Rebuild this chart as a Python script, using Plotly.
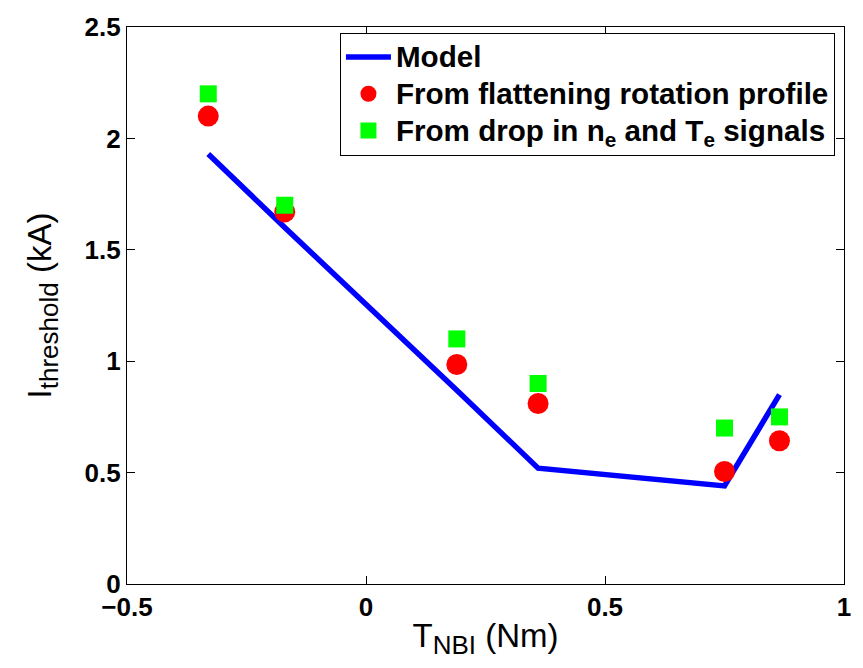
import plotly.graph_objects as go

# NBI torque (Nm) and threshold current (kA)
torque = [-0.33, -0.17, 0.19, 0.36, 0.75, 0.865]
model_threshold = [1.93, 1.60, 0.87, 0.52, 0.44, 0.85]
rotation_threshold = [2.10, 1.67, 0.985, 0.81, 0.505, 0.643]
signal_threshold = [2.20, 1.70, 1.10, 0.90, 0.70, 0.75]

x_ticks = [-0.5, 0, 0.5, 1]
x_tick_text = ["\u22120.5", "0", "0.5", "1"]
y_ticks = [0, 0.5, 1, 1.5, 2, 2.5]
y_tick_text = ["0", "0.5", "1", "1.5", "2", "2.5"]

FONT = "Liberation Sans, Arial, Helvetica, sans-serif"


def sub(text, px=26):
    return f'<sub><span style="font-size:{px}px">{text}</span></sub>'


def legend_label(text, px=29.6):
    return f'<span style="font-size:{px}px">{text}</span>'


fig = go.Figure()
fig.add_trace(go.Scatter(
    x=torque, y=model_threshold, mode="lines", name=legend_label("Model"),
    line=dict(color="#0000ff", width=5.5),
))
fig.add_trace(go.Scatter(
    x=torque, y=rotation_threshold, mode="markers",
    name=legend_label("From flattening rotation profile"),
    marker=dict(color="#ff0000", size=21, symbol="circle", line=dict(width=0)),
))
fig.add_trace(go.Scatter(
    x=torque, y=signal_threshold, mode="markers",
    name=legend_label("From drop in n<sub>e</sub> and T<sub>e</sub> signals"),
    marker=dict(color="#00ff00", size=17, symbol="square", line=dict(width=0)),
))

axis_common = dict(
    showline=True, linecolor="black", linewidth=1.3, mirror="ticks",
    ticks="inside", ticklen=8, tickcolor="black", tickwidth=1,
    showgrid=False, zeroline=False,
    tickfont=dict(family=FONT, size=26, color="black", weight="bold"),
)

fig.update_xaxes(
    range=[-0.5, 1], tickvals=x_ticks, ticktext=x_tick_text,
    title=dict(text="T" + sub("NBI") + " (Nm)",
               font=dict(family=FONT, size=33, color="black"), standoff=2),
    **axis_common,
)
fig.update_yaxes(
    range=[0, 2.5], tickvals=y_ticks, ticktext=y_tick_text,
    title=dict(text="I" + sub("threshold") + " (kA)",
               font=dict(family=FONT, size=33, color="black"), standoff=22),
    **axis_common,
)

fig.update_layout(
    width=863, height=668,
    margin=dict(l=127, r=13, t=20, b=84),
    paper_bgcolor="white", plot_bgcolor="white",
    showlegend=True,
    legend=dict(
        x=0.297, y=0.99, xanchor="left", yanchor="top",
        bgcolor="white", bordercolor="black", borderwidth=1,
        font=dict(family=FONT, size=26, color="black", weight="bold"),
        itemwidth=45, tracegroupgap=0,
    ),
)

fig.write_html("out.html")
